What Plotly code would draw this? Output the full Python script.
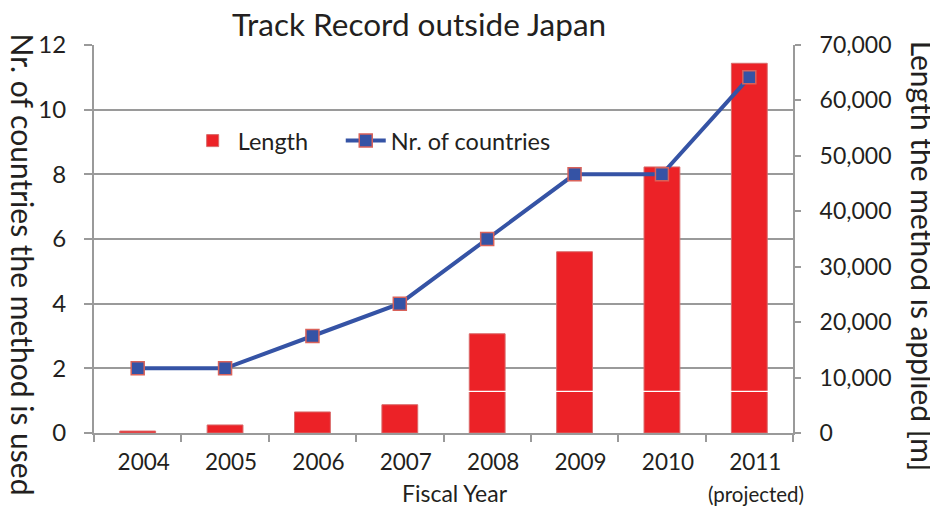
import plotly.graph_objects as go

years = ["2004", "2005", "2006", "2007", "2008", "2009", "2010", "2011"]
length_m = [350, 1450, 3800, 5100, 17900, 32700, 48000, 66700]
countries = [2, 2, 3, 4, 6, 8, 8, 11]

# thin white seam visible inside the taller bars
seam_years = ["2008", "2009", "2010", "2011"]
seam_level = [7500, 7500, 7500, 7500]

FONT = "Lato, 'Open Sans', sans-serif"
TXT = "#231f20"
GRID = "#9a9a9a"

fig = go.Figure()

# bars on the primary (right-hand) axis so the line overlays them
fig.add_trace(go.Bar(
    x=years, y=length_m, name="Length",
    marker=dict(color="#ec2227", line=dict(color="#d96a6a", width=1)),
    yaxis="y", legend="legend",
))
fig.add_trace(go.Scatter(
    x=seam_years, y=seam_level, mode="markers", showlegend=False,
    marker=dict(symbol="line-ew", size=34, line=dict(color="white", width=1.2)),
    hoverinfo="skip", yaxis="y",
))
fig.add_trace(go.Scatter(
    x=years, y=countries, name="Nr. of countries", mode="lines+markers",
    line=dict(color="#3553a5", width=4),
    marker=dict(symbol="square", size=13, color="#3553a5",
                line=dict(color="#d9625a", width=1.5)),
    yaxis="y2", legend="legend2",
))

legend_style = dict(orientation="h", y=0.753, xanchor="left", yanchor="middle",
                    bgcolor="rgba(0,0,0,0)", font=dict(size=23.5), itemwidth=40)

# page body has an 8px margin, so the figure is 8px smaller than the window
fig.update_layout(
    width=930, height=502,
    margin=dict(l=86, r=145, t=37, b=77),
    paper_bgcolor="white", plot_bgcolor="white",
    font=dict(family=FONT, color=TXT, size=22),
    title=dict(text="Track Record outside Japan", x=0.442, xanchor="center",
               y=0.966, yanchor="middle", font=dict(size=31.5)),
    bargap=0.59,
    showlegend=True,
    legend=dict(x=0.134, **legend_style),
    legend2=dict(x=0.353, **legend_style),
    xaxis=dict(
        type="category", showgrid=False, showline=True, linecolor=GRID, linewidth=2,
        ticks="outside", tickson="boundaries", ticklen=7, tickcolor=GRID, tickwidth=1.5,
        tickfont=dict(size=22.5), range=[-0.5, 7.5],
        ticklabelstandoff=8, ticklabelshift=6,
    ),
    yaxis=dict(
        side="right", range=[0, 70000], tickvals=[0, 10000, 20000, 30000, 40000, 50000, 60000, 70000],
        ticktext=["0", "10,000", "20,000", "30,000", "40,000", "50,000", "60,000", "70,000"],
        showgrid=False, showline=True, linecolor=GRID, linewidth=2,
        ticks="outside", ticklen=6, tickcolor=GRID, tickwidth=1.5,
        tickfont=dict(size=23), ticklabelstandoff=14, zeroline=False,
    ),
    yaxis2=dict(
        overlaying="y", side="left", range=[0, 12], dtick=2,
        showgrid=True, gridcolor=GRID, gridwidth=1.5,
        showline=True, linecolor=GRID, linewidth=2,
        ticks="outside", ticklen=8, tickcolor=GRID, tickwidth=1.5,
        tickfont=dict(size=24), ticklabelstandoff=13, zeroline=False,
    ),
    annotations=[
        dict(text="Fiscal Year", xref="paper", yref="paper", x=0.516, y=-0.155,
             xanchor="center", yanchor="middle", showarrow=False, font=dict(size=23)),
        dict(text="(projected)", xref="x", yref="paper", x=7, y=-0.158, xshift=7,
             xanchor="center", yanchor="middle", showarrow=False, font=dict(size=20.5)),
        dict(text="Nr. of countries the method is used", xref="paper", yref="paper",
             x=-0.101, y=0.433, xanchor="center", yanchor="middle", textangle=90,
             showarrow=False, font=dict(size=30)),
        dict(text="Length the method is applied [m]", xref="paper", yref="paper",
             x=1.186, y=0.457, xanchor="center", yanchor="middle", textangle=90,
             showarrow=False, font=dict(size=30)),
    ],
)

fig.write_html("out.html")
